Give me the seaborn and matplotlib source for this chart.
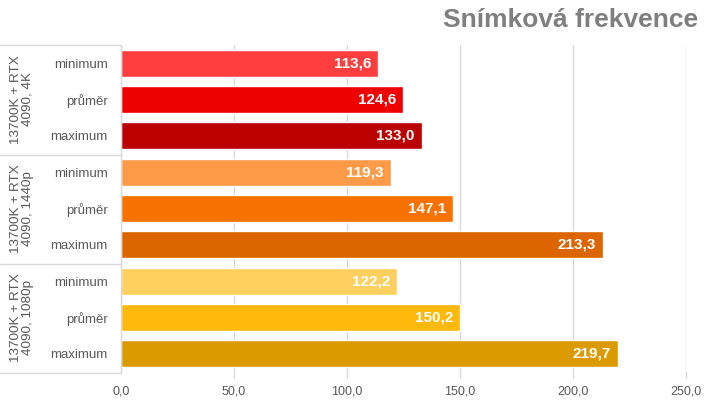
import matplotlib
matplotlib.use("Agg")
import matplotlib.pyplot as plt
import matplotlib.transforms as mtransforms
import seaborn as sns
import pandas as pd
from matplotlib.lines import Line2D

groups = ["13700K + RTX\n4090, 4K", "13700K + RTX\n4090, 1440p", "13700K + RTX\n4090, 1080p"]
stats = ["minimum", "průměr", "maximum"]
values = [113.6, 124.6, 133.0, 119.3, 147.1, 213.3, 122.2, 150.2, 219.7]
colors = ["#FF3F3F", "#EE0000", "#BB0000",
          "#FF9B48", "#F77200", "#DC6500",
          "#FFD05F", "#FFB80C", "#DB9B00"]
xticks = [0, 50, 100, 150, 200, 250]
title = "Snímková frekvence"

rows = [f"{g}|{s}" for g in groups for s in stats]
df = pd.DataFrame({"row": rows, "value": values})

sns.set_theme(style="white")
plt.rcParams["font.family"] = ["Liberation Sans", "DejaVu Sans"]

fig = plt.figure(figsize=(7.2, 4.05), dpi=100)
L, R, T, B = 121/720, 686/720, 1-45/405, 1-372/405
ax = fig.add_axes([L, B, R-L, T-B])

sns.barplot(data=df, y="row", x="value", hue="row", palette=colors,
            legend=False, width=0.75, ax=ax, saturation=1, orient="h")

ax.set_xlim(0, 250)
ax.set_xticks(xticks)
ax.set_xticklabels([f"{v:.1f}".replace(".", ",") for v in xticks], color="#595959", fontsize=9)
ax.set_yticks(range(len(rows)))
ax.set_yticklabels([r.split("|")[1] for r in rows], color="#595959", fontsize=9.5)
ax.set_xlabel("")
ax.set_ylabel("")
ax.tick_params(axis="y", length=0, pad=9.5)
ax.tick_params(axis="x", length=0, pad=10)
ax.grid(axis="x", color="#D9D9D9", linewidth=1)
ax.set_axisbelow(True)
for s in ["top", "right", "bottom"]:
    ax.spines[s].set_visible(False)
ax.spines["left"].set_color("#D9D9D9")
ax.spines["left"].set_linewidth(1)

for i, v in enumerate(values):
    ax.text(v - 3, i, f"{v:.1f}".replace(".", ","), ha="right", va="center",
            color="white", fontsize=11, fontweight="bold")

# group labels
blend = mtransforms.blended_transform_factory(fig.transFigure, ax.transData)
for gi, g in enumerate(groups):
    fig.text(22/720, 3*gi + 1, g, rotation=90, ha="center", va="center",
             color="#595959", fontsize=9.7, linespacing=1.0, transform=blend)

# separators in label area
for yy in [45, 155, 264, 373]:
    fig.add_artist(Line2D([0, L], [1-yy/405, 1-yy/405], color="#D9D9D9", linewidth=1))

# grid extensions below plot
for v in xticks[1:]:
    xf = L + (R-L) * v/250
    fig.add_artist(Line2D([xf, xf], [B, 1-378/405], color="#D9D9D9", linewidth=1))

fig.text(698/720, 1-20/405, title, ha="right", va="center", fontsize=19,
         fontweight="bold", color="#7F7F7F")

fig.savefig("out.png", dpi=100)
